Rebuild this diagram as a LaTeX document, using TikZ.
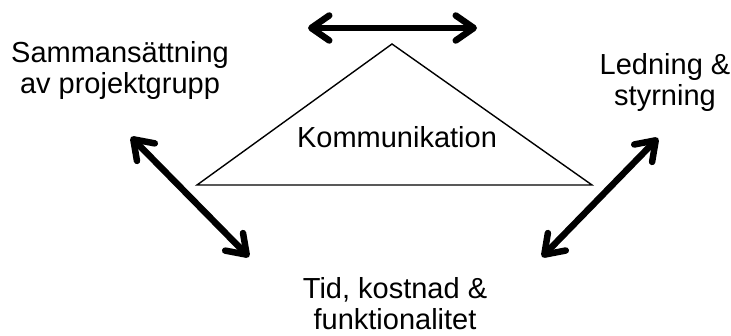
\documentclass[tikz,border=0pt]{standalone}
\usepackage{fontspec}
\setmainfont{Liberation Sans}
\usetikzlibrary{arrows.meta}
\tikzset{
	etikett/.style={align=center, font=\fontsize{29}{31}\selectfont, inner sep=0pt},
	pil/.style={line width=6.5pt, {Straight Barb[length=18pt, width=25pt, round]}-{Straight Barb[length=18pt, width=25pt, round]}}
}
\begin{document}
	\begin{tikzpicture}[x=1pt, y=-1pt]
		\useasboundingbox (0,0) rectangle (731,336);
		% triangeln
		\coordinate (topp) at (392,44);
		\coordinate (vanster) at (197,185);
		\coordinate (hoger) at (592,185);
		\draw[line width=1.4pt, line join=miter] (topp) -- (vanster) -- (hoger) -- cycle;
		\node[etikett, anchor=base] (komm) at (397,148) {Kommunikation};
		% texterna
		\node[etikett] (samm) at (120,71) {Sammansättning\\av projektgrupp};
		\node[etikett] (led) at (665,83) {Ledning \&\\styrning};
		\node[etikett] (tid) at (395,303.5) {Tid, kostnad \&\\funktionalitet};
		% pilarna
		\coordinate (a1) at (308,28);
		\coordinate (a2) at (477,28);
		\coordinate (b1) at (131,137);
		\coordinate (b2) at (249,257);
		\coordinate (c1) at (658,138);
		\coordinate (c2) at (542,257);
		\draw[pil] (a1) -- (a2);
		\draw[pil] (b1) -- (b2);
		\draw[pil] (c1) -- (c2);
	\end{tikzpicture}
\end{document}
